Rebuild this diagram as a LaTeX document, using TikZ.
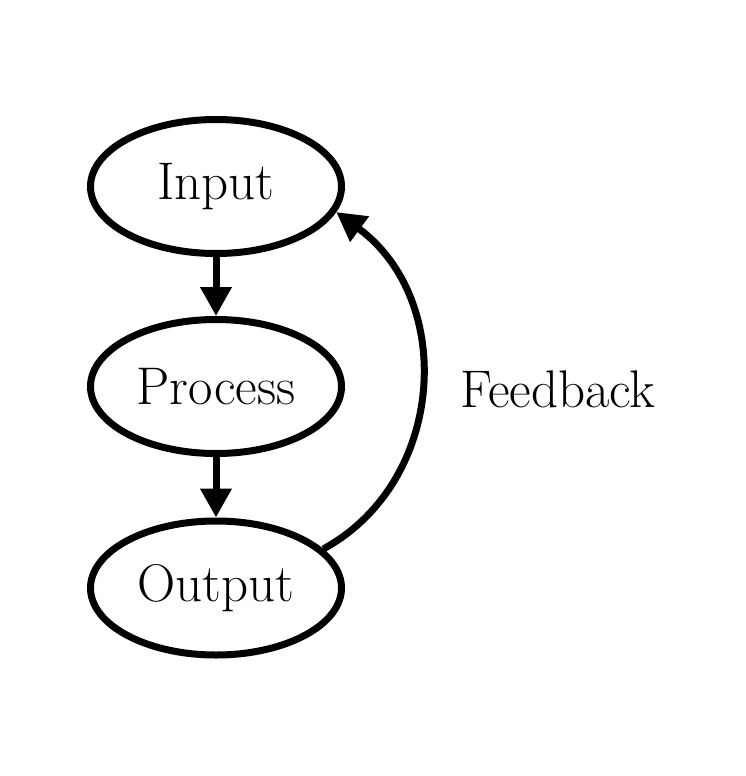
\documentclass[tikz,border=0pt]{standalone}
\usetikzlibrary{shapes.geometric,arrows.meta}
\begin{document}
\begin{tikzpicture}[x=1pt,y=1pt,
  stage/.style={ellipse,draw,line width=7pt,minimum width=251pt,minimum height=134pt,inner sep=0pt,font=\fontsize{53}{62}\selectfont},
  flow/.style={line width=7pt,-{Triangle[length=29pt,width=30pt]}},
  lbl/.style={font=\fontsize{53}{62}\selectfont}]
\useasboundingbox (0,0) rectangle (745,-776);
\node[stage] (in) at (216,-186.5) {Input};
\node[stage] (pr) at (216,-386.5) {Process};
\node[stage] (out) at (216,-588) {Output};
\node[lbl,anchor=base] (fb) at (558,-407) {Feedback};
\draw[flow] (in) -- (pr);
\draw[flow] (pr) -- (out);
\draw[flow] (out.20) .. controls (446,-482) and (456,-300) .. (in.-12);
\end{tikzpicture}
\end{document}
